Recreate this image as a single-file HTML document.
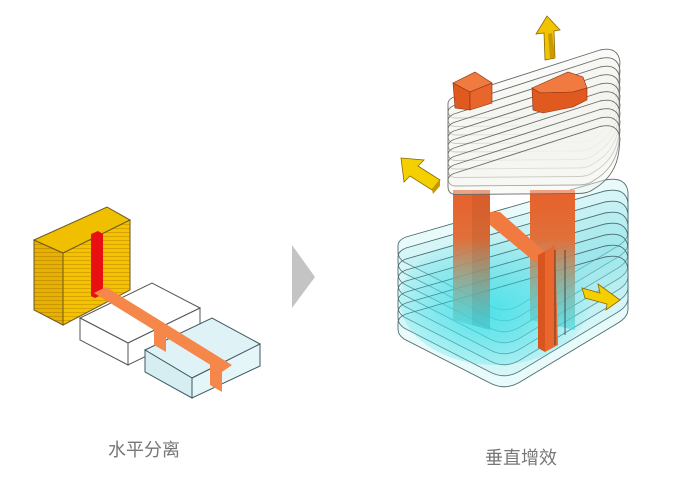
<!DOCTYPE html>
<html><head><meta charset="utf-8"><style>
html,body{margin:0;padding:0;background:#fff;}
svg{display:block}
text{font-family:"Liberation Sans","Noto Sans CJK SC",sans-serif;}
</style></head><body>
<svg width="700" height="481" viewBox="0 0 700 481" xmlns="http://www.w3.org/2000/svg">
<defs>
<pattern id="yl" width="4" height="4" patternUnits="userSpaceOnUse">
<rect width="4" height="4" fill="#f3c200"/><rect width="4" height="1" fill="#d9a400"/>
</pattern>
<pattern id="yl2" width="4" height="4" patternUnits="userSpaceOnUse">
<rect width="4" height="4" fill="#e8b000"/><rect width="4" height="1" fill="#c99500"/>
</pattern>
<linearGradient id="colg" x1="0" y1="0" x2="0" y2="1">
<stop offset="0" stop-color="#e8602a"/><stop offset="0.35" stop-color="#e0703a"/><stop offset="1" stop-color="#40d8e0" stop-opacity="0.6"/>
</linearGradient>
<radialGradient id="cy" cx="0.45" cy="0.6" r="0.6">
<stop offset="0" stop-color="#30e0e8" stop-opacity="0.7"/><stop offset="1" stop-color="#30e0e8" stop-opacity="0"/>
</radialGradient>
</defs>

<!-- LEFT: yellow block -->
<polygon points="34,240 63,253 63,325 34,310" fill="url(#yl2)" stroke="#6a5a20" stroke-width="1"/>
<polygon points="63,253 130,220 130,290 63,325" fill="url(#yl)" stroke="#6a5a20" stroke-width="1"/>
<polygon points="34,240 107,207 130,220 63,253" fill="#f0bf00" stroke="#6a5a20" stroke-width="1"/>
<!-- red bar -->
<polygon points="91,234 98,231 103,234 103,294 95,298 91,296" fill="#e81010"/>
<!-- white block 1 -->
<polygon points="80,318 152,283 200,308 128,343" fill="#fff" stroke="#555" stroke-width="1"/>
<polygon points="80,318 128,343 128,365 80,340" fill="#fff" stroke="#555" stroke-width="1"/>
<polygon points="128,343 200,308 200,330 128,365" fill="#fff" stroke="#555" stroke-width="1"/>
<!-- cyan block -->
<polygon points="145,350 212,318 260,344 192,378" fill="#dff3f6" stroke="#3a5a60" stroke-width="1"/>
<polygon points="145,350 192,378 192,398 145,372" fill="#d6eef2" stroke="#3a5a60" stroke-width="1"/>
<polygon points="192,378 260,344 260,366 192,398" fill="#e4f6f8" stroke="#3a5a60" stroke-width="1"/>
<!-- orange band -->
<polygon points="94,293 106,287 232,365 222,372" fill="#f5874a"/>
<polygon points="154,328 166,335 166,352 154,345" fill="#f5874a"/>
<polygon points="210,364 222,372 222,392 210,385" fill="#f5874a"/>

<!-- gray arrow -->
<polygon points="292,245 315,277 292,308" fill="#c4c4c4"/>

<!-- RIGHT: cyan lower plates -->
<g fill="rgba(120,225,230,0.16)" stroke="#4a6a6e" stroke-width="0.9">
<path id="cp" d="M398,246 Q398,240 406,237 L605,180 Q626,176 628,192 L628,232 Q628,240 618,246 L520,305 Q505,314 490,306 L404,262 Q398,258 398,252 Z"/>
<use href="#cp" y="11"/><use href="#cp" y="22"/><use href="#cp" y="33"/><use href="#cp" y="44"/><use href="#cp" y="55"/><use href="#cp" y="66"/><use href="#cp" y="77"/>
</g>
<ellipse cx="495" cy="300" rx="95" ry="65" fill="url(#cy)"/>

<!-- orange cores -->
<polygon points="453,190 490,190 490,330 453,320" fill="url(#colg)"/>
<polygon points="472,190 490,190 490,330 472,325" fill="#000" opacity="0.06"/>
<polygon points="530,190 575,190 575,330 530,320" fill="url(#colg)"/>
<polygon points="490,212 500,212 545,252 545,262 535,262 490,225" fill="#f07a40"/>
<polygon points="538,255 555,245 558,345 545,352 538,345" fill="#e9662c"/>
<polygon points="538,255 545,252 545,352 538,348" fill="#d85520"/>
<line x1="555" y1="250" x2="555" y2="345" stroke="#333" stroke-width="0.8"/>
<line x1="565" y1="250" x2="565" y2="335" stroke="#333" stroke-width="0.8"/>

<!-- white upper plates -->
<g fill="rgba(245,245,240,0.45)" stroke="#6a6a66" stroke-width="0.9">
<path id="wp" d="M448,103 Q449,98 457,96 L600,50 Q618,46 620,62 L619,74 Q616,100 593,113 Q588,117 578,117 L456,118 Q448,118 448,110 Z"/>
<use href="#wp" y="8.5"/><use href="#wp" y="17"/><use href="#wp" y="25.5"/><use href="#wp" y="34"/><use href="#wp" y="42.5"/><use href="#wp" y="51"/><use href="#wp" y="59.5"/><use href="#wp" y="68"/><use href="#wp" y="76.5"/>
</g>

<!-- top orange blocks -->
<polygon points="453,83 475,72 492,83 470,92" fill="#f07a40" stroke="#8a3010" stroke-width="0.6"/>
<polygon points="453,83 470,92 470,110 455,108" fill="#e05a20" stroke="#8a3010" stroke-width="0.6"/>
<polygon points="470,92 492,83 492,103 470,110" fill="#e8662c" stroke="#8a3010" stroke-width="0.6"/>
<polygon points="532,88 568,72 583,77 587,88 573,92 540,93" fill="#f07a40" stroke="#8a3010" stroke-width="0.6"/>
<polygon points="532,88 540,93 573,92 587,88 587,100 573,107 543,113 533,110" fill="#e05a20" stroke="#8a3010" stroke-width="0.6"/>

<!-- yellow arrows -->
<polygon points="547,16 560,30 554,31 555,58 545,60 544,33 536,34" fill="#f2c400" stroke="#8a6a00" stroke-width="0.8"/>
<polygon points="548,34 552,33 555,58 550,58" fill="#c99a00"/>
<polygon points="401,158 424,160 418,166 440,180 432,190 410,176 404,182" fill="#f5d000" stroke="#8a6a00" stroke-width="0.8"/>
<polygon points="432,190 440,180 440,186 433,194" fill="#c99a00"/>
<polygon points="620,300 606,310 607,304 585,298 582,288 600,293 598,284" fill="#f5d000" stroke="#8a6a00" stroke-width="0.8"/>

<!-- labels -->
<text x="108" y="456" font-size="18" fill="#777">水平分离</text>
<text x="485" y="464" font-size="18" fill="#777">垂直增效</text>
</svg>
</body></html>
